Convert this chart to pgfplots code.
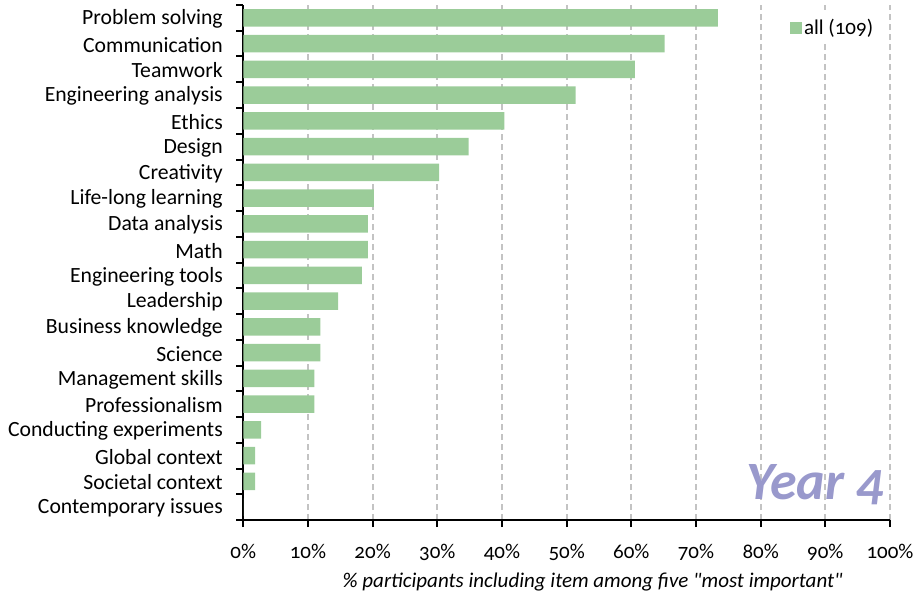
\documentclass[border=0pt]{standalone}
\usepackage{pgfplots}
\pgfplotsset{compat=1.18}
\usepackage{fontspec}
\setmainfont{Carlito}[Numbers=OldStyle]
\newfontfamily\plainfont{Carlito}[Numbers=OldStyle, Ligatures=TeXOff]
\definecolor{barg}{RGB}{155,204,153}
\definecolor{gridg}{RGB}{195,195,195}
\definecolor{yearc}{RGB}{153,153,204}
\begin{document}
\begin{tikzpicture}
\path[use as bounding box] (-243.3pt,-75pt) rectangle (671.7pt,520pt);
\begin{axis}[
  at={(0pt,0pt)}, anchor=south west,
  scale only axis, width=646.7pt, height=515pt,
  xmin=0, xmax=100, ymin=-0.5, ymax=19.5,
  axis x line*=bottom, axis y line*=left,
  axis line style={black, line width=2.2pt},
  xtick={0,10,...,100},
  xticklabels={0\%,10\%,20\%,30\%,40\%,50\%,60\%,70\%,80\%,90\%,100\%},
  xmajorgrids,
  grid style={gridg, line width=1.8pt, dash pattern=on 6pt off 4pt},
  ytick={0,...,19},
  yticklabels={Contemporary issues, Societal context, Global context, Conducting experiments, Professionalism, Management skills, Science, Business knowledge, Leadership, Engineering tools, Math, Data analysis, Life-long learning, Creativity, Design, Ethics, Engineering analysis, Teamwork, Communication, Problem solving},
  minor ytick={-0.5,0.5,...,19.5},
  tick align=outside, major tick length=7pt, minor tick length=7pt,
  major y tick style={draw=none},
  minor y tick style={black, line width=2pt},
  x tick style={black, line width=2pt},
  xticklabel style={font=\fontsize{21}{24}\selectfont, yshift=-14pt},
  yticklabel style={font=\fontsize{21.7}{24}\selectfont, xshift=-10pt, yshift=-1pt},
  xlabel={\plainfont\itshape\% participants including item among five "most important"},
  xlabel style={font=\fontsize{21}{24}\selectfont, xshift=26pt, yshift=-5pt},
  legend style={at={(0.982,0.982)}, anchor=north east, draw=none, fill=white,
    font=\fontsize{21}{24}\selectfont, inner sep=3pt},
  legend image code/.code={\fill[barg] (-2pt,-6pt) rectangle (10pt,6pt);},
]
\addplot[xbar, bar width=17.3pt, fill=barg, draw=none] coordinates {
  (0,0) (1.83,1) (1.83,2) (2.75,3) (11.01,4) (11.01,5) (11.93,6) (11.93,7)
  (14.68,8) (18.35,9) (19.27,10) (19.27,11) (20.18,12) (30.28,13) (34.86,14)
  (40.37,15) (51.38,16) (60.55,17) (65.14,18) (73.39,19)
};
\addlegendentry{all (109)}
\node[anchor=base, text=yearc, font=\fontsize{54}{60}\selectfont\bfseries\itshape]
  at (rel axis cs:0.884,0.039) {Year 4};
\end{axis}
\end{tikzpicture}
\end{document}
